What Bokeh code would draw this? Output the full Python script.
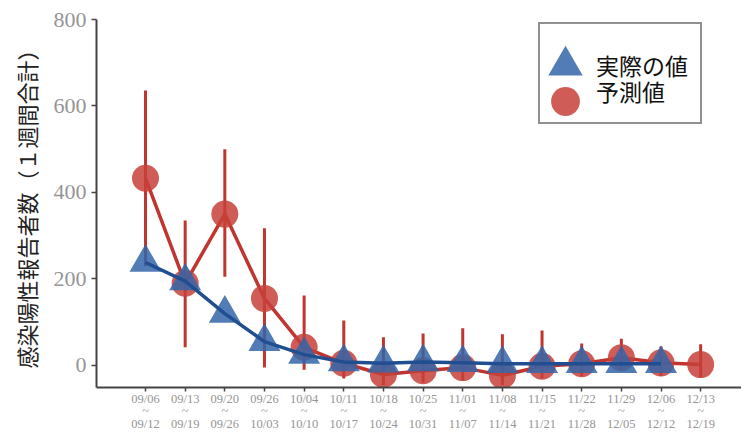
import math
from bokeh.plotting import figure
from bokeh.models import Range1d, FixedTicker, ColumnDataSource, Legend, LegendItem
from bokeh.embed import file_html
from bokeh.resources import INLINE

week_start = ["09/06", "09/13", "09/20", "09/26", "10/04", "10/11", "10/18", "10/25",
              "11/01", "11/08", "11/15", "11/22", "11/29", "12/06", "12/13"]
week_end = ["09/12", "09/19", "09/26", "10/03", "10/10", "10/17", "10/24", "10/31",
            "11/07", "11/14", "11/21", "11/28", "12/05", "12/12", "12/19"]
actual = [238, 195, 120, 55, 25, 8, 5, 8, 6, 4, 4, 4, 4, 4, float("nan")]
predicted = [433, 190, 350, 155, 42, 5, -21, -12, -5, -23, -2, 4, 18, 6, 2]
pred_upper = [636, 335, 500, 317, 162, 104, 65, 74, 86, 72, 81, 51, 62, 44, 49]
pred_lower = [230, 42, 205, -5, -10, -30, -45, -40, -35, -45, -30, -25, -10, -25, -28]
y_ticks = [0, 200, 400, 600, 800]
legend_labels = ["実際の値", "予測値"]

idx = list(range(len(week_start)))

FL, FB = 96, 387  # frame left / bottom in canvas px

p = figure(width=741, height=433, output_backend="svg", toolbar_location=None,
           x_range=Range1d(-1.236, 15.03), y_range=Range1d(-51, 800),
           min_border_left=FL, min_border_top=19, min_border_bottom=46, min_border_right=0)
p.outline_line_color = None
p.grid.visible = False
p.background_fill_color = "white"

red = "#c7403a"
red_line = "#c0352f"
blue = "#3465a8"
blue_line = "#214e90"

pred_src = ColumnDataSource(dict(x=idx, y=predicted, lo=pred_lower, hi=pred_upper))
act_idx = [i for i in idx if not math.isnan(actual[i])]
act_src = ColumnDataSource(dict(x=act_idx, y=[actual[i] for i in act_idx]))

p.segment(x0="x", y0="lo", x1="x", y1="hi", source=pred_src, line_color=red_line, line_width=3)
p.line("x", "y", source=pred_src, line_color=red_line, line_width=3.5)
r_pred = p.scatter("x", "y", source=pred_src, marker="circle", size=27,
                   fill_color=red, fill_alpha=0.85, line_color=None)
r_act = p.scatter("x", "y", source=act_src, marker="triangle", size=32,
                  fill_color=blue, fill_alpha=0.85, line_color=None)
p.line("x", "y", source=act_src, line_color=blue_line, line_width=3.5)
r_dummy = p.scatter("x", "y", source=pred_src, size=1, fill_alpha=0, line_alpha=0)

# axes
for ax in (p.xaxis[0], p.yaxis[0]):
    ax.axis_line_color = "#444444"
    ax.axis_line_width = 2
    ax.major_tick_line_color = "#444444"
    ax.major_tick_line_width = 1.5
    ax.minor_tick_line_color = None
    ax.major_tick_in = 0
    ax.major_label_text_color = "#959595"
    ax.major_label_text_font = "Liberation Serif"

p.yaxis.ticker = FixedTicker(ticks=y_ticks)
p.yaxis.major_tick_out = 5
p.yaxis.major_label_standoff = 5
p.yaxis.major_label_text_font_size = "22px"
p.yaxis.axis_label = "感染陽性報告者数（１週間合計）"
p.yaxis.axis_label_text_font = "Noto Sans CJK JP"
p.yaxis.axis_label_text_font_style = "normal"
p.yaxis.axis_label_text_font_size = "22px"
p.yaxis.axis_label_text_color = "#222222"
p.yaxis.axis_label_standoff = 9

p.xaxis.ticker = FixedTicker(ticks=idx)
p.xaxis.major_tick_out = 4
p.xaxis.major_label_standoff = 0
p.xaxis.major_label_text_font_size = "12.5px"
p.xaxis.major_label_text_line_height = 0.9
p.xaxis.major_label_overrides = {i: f"{s}\n~\n{e}" for i, s, e in zip(idx, week_start, week_end)}


def loc(left, top, h):
    return (int(round(left - FL)), int(round(FB - (top + h))))


# legend frame box
box = Legend(items=[LegendItem(label=" ", renderers=[r_dummy])],
             location=loc(538, 26, 98), glyph_width=1, glyph_height=98,
             label_height=98, label_width=159, label_standoff=0, padding=0, margin=0,
             border_line_color="#222222", border_line_width=2,
             background_fill_color="white", background_fill_alpha=1.0)
p.add_layout(box, "center")

# legend markers (large)
for rend, cy, g in ((r_act, 65, 86), (r_pred, 101, 72)):
    lg = Legend(items=[LegendItem(label=" ", renderers=[rend])],
                location=loc(565 - g / 2, cy - g / 2, g), glyph_width=g, glyph_height=g,
                label_height=g, label_width=1, label_standoff=0, padding=0, margin=0,
                border_line_color=None, background_fill_alpha=0)
    p.add_layout(lg, "center")

# legend labels, one legend per label so their spacing can be set freely
for text, cy in zip(legend_labels, (65, 91)):
    lab = Legend(items=[LegendItem(label=text, renderers=[r_dummy])],
                 location=loc(595, cy - 18, 36), glyph_width=1, glyph_height=36,
                 label_height=36, label_standoff=0, padding=0, margin=0,
                 label_text_font="Noto Sans CJK JP", label_text_font_size="23px",
                 label_text_font_style="normal",
                 label_text_color="#111111",
                 border_line_color=None, background_fill_alpha=0)
    p.add_layout(lab, "center")

open("out.html", "w").write(file_html(p, INLINE))
